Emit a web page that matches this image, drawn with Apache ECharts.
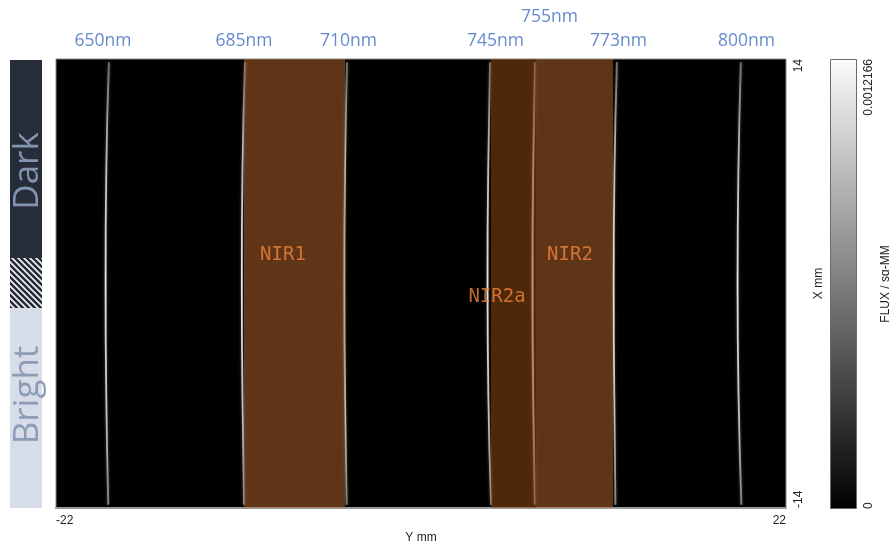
<!DOCTYPE html>
<html><head><meta charset="utf-8">
<script src="https://cdn.jsdelivr.net/npm/echarts@6/dist/echarts.min.js"></script>
<style>html,body{margin:0;padding:0;background:#fff;}#c{width:889px;height:545px;}</style>
</head><body><div id="c"></div>
<script>
// ---- data ----
const sampleX = [13.8, 7, 0, -7, -13.8];           // X mm positions along each spectral line
const wavelengths = ['650nm', '685nm', '710nm', '745nm', '755nm', '773nm', '800nm'];
const line650 = [-18.81, -18.97, -19.01, -18.97, -18.85];
const line685 = [-10.61, -10.76, -10.80, -10.76, -10.67];
const line710 = [-4.46, -4.58, -4.62, -4.58, -4.48];
const line745 = [4.16, 4.05, 4.01, 4.06, 4.22];
const line755 = [6.87, 6.76, 6.72, 6.76, 6.86];
const line773 = [11.81, 11.66, 11.61, 11.65, 11.72];
const line800 = [19.28, 19.13, 19.08, 19.14, 19.31];
const lineYs = [line650, line685, line710, line745, line755, line773, line800];
const wavelengthLabelAt = [-19.17, -10.67, -4.37, 4.49, 7.74, 11.90, 19.62];

const bandNames = ['NIR1', 'NIR2a', 'NIR2'];
const bandStart = [-10.67, 4.22, 6.93];
const bandEnd = [-4.58, 6.93, 11.57];
const bandLabelY = [-8.32, 4.58, 8.98];
const bandLabelX = [1.78, -0.84, 1.78];

const yMmRange = [-22, 22];
const xMmRange = [-14, 14];
const fluxRange = [0, 0.0012166];

// ---- chart ----
const chart = echarts.init(document.getElementById('c'), null, {renderer: 'canvas'});

const lineGrad = new echarts.graphic.LinearGradient(0, 0, 0, 1, [
  {offset: 0, color: '#6e6e6e'}, {offset: 0.2, color: '#b5b5b5'},
  {offset: 0.5, color: '#e6e6e6'}, {offset: 0.8, color: '#bdbdbd'}, {offset: 1, color: '#808080'}
]);

const lineSeries = lineYs.map((ys, i) => ({
  type: 'line', name: wavelengths[i], xAxisIndex: 0, yAxisIndex: 0,
  data: ys.map((y, k) => [y, sampleX[k]]),
  smooth: true, showSymbol: false, symbol: 'none', z: 2,
  lineStyle: {width: 1.8, color: lineGrad, shadowBlur: 3, shadowColor: 'rgba(255,255,255,0.3)'},
  silent: true
}));

const bandColors = ['rgba(190,105,48,0.5)', 'rgba(158,78,18,0.5)', 'rgba(190,105,48,0.5)'];

const bandSeries = {
  type: 'custom', xAxisIndex: 0, yAxisIndex: 0, z: 3, silent: true,
  data: bandNames.map((n, i) => [bandStart[i], bandEnd[i], i]),
  renderItem: function (params, api) {
    const p1 = api.coord([api.value(0), xMmRange[1]]);
    const p2 = api.coord([api.value(1), xMmRange[0]]);
    return {type: 'rect', shape: {x: p1[0], y: p1[1], width: p2[0] - p1[0], height: p2[1] - p1[1]},
      style: {fill: bandColors[api.value(2)]}};
  }
};

const bandLabelSeries = {
  type: 'scatter', xAxisIndex: 0, yAxisIndex: 0, z: 4, symbolSize: 0, silent: true,
  data: bandNames.map((n, i) => ({value: [bandLabelY[i], bandLabelX[i]], name: n})),
  label: {show: true, position: 'inside', formatter: '{b}', color: '#f0843a',
    fontFamily: 'DejaVu Sans Mono', fontSize: 19}
};

const wlLabelSeries = {
  type: 'scatter', xAxisIndex: 0, yAxisIndex: 0, z: 4, symbolSize: 0, silent: true, clip: false,
  data: wavelengths.map((w, i) => ({value: [wavelengthLabelAt[i], xMmRange[1]], name: w,
    label: {distance: w === '755nm' ? 33 : 9}})),
  label: {show: true, position: 'top', formatter: '{b}', color: '#3d6dc0',
    fontFamily: 'Open Sans', fontSize: 17.5}
};

const colorbarSeries = {
  type: 'bar', xAxisIndex: 1, yAxisIndex: 1, barWidth: '100%', silent: true,
  data: [fluxRange[1]],
  itemStyle: {color: new echarts.graphic.LinearGradient(0, 0, 0, 1, [
    {offset: 0, color: '#fbfbfb'}, {offset: 1, color: '#000000'}]),
    borderColor: '#6a6a6a', borderWidth: 1}
};

// hatch pattern
const pc = document.createElement('canvas');
pc.width = 6; pc.height = 6;
const ctx = pc.getContext('2d');
ctx.fillStyle = '#262c38'; ctx.fillRect(0, 0, 6, 6);
ctx.strokeStyle = '#f4f4f4'; ctx.lineWidth = 1.6;
ctx.beginPath();
ctx.moveTo(-1, -1); ctx.lineTo(7, 7);
ctx.moveTo(-4, 2); ctx.lineTo(4, 10);
ctx.moveTo(2, -4); ctx.lineTo(10, 4);
ctx.stroke();

const axisFont = 'Liberation Sans';

chart.setOption({
  animation: false,
  backgroundColor: '#ffffff',
  grid: [
    {left: 56, top: 59, width: 730, height: 449, show: true, backgroundColor: '#000000',
      borderColor: '#8a8a8a', borderWidth: 1, containLabel: false, outerBoundsMode: 'none'},
    {left: 830, top: 59, width: 27, height: 450, show: false, containLabel: false, outerBoundsMode: 'none'}
  ],
  xAxis: [
    {type: 'value', gridIndex: 0, min: yMmRange[0], max: yMmRange[1], interval: 44,
      name: 'Y mm', nameLocation: 'middle', nameGap: 24,
      nameTextStyle: {color: '#222', fontSize: 12, fontFamily: axisFont},
      axisLine: {show: true, onZero: false, lineStyle: {color: '#9a9a9a', width: 2}}, axisTick: {show: false},
      splitLine: {show: false},
      axisLabel: {color: '#222', fontSize: 12, fontFamily: axisFont, margin: 7,
        alignMinLabel: 'left', alignMaxLabel: 'right'}},
    {type: 'category', gridIndex: 1, data: [''], show: false}
  ],
  yAxis: [
    {type: 'value', gridIndex: 0, position: 'right', min: xMmRange[0], max: xMmRange[1], interval: 28,
      name: 'X mm', nameLocation: 'middle', nameGap: 19, nameRotate: 90,
      nameTextStyle: {color: '#222', fontSize: 12, fontFamily: 'Liberation Sans'},
      axisLine: {show: false, onZero: false}, axisTick: {show: false}, splitLine: {show: false},
      axisLabel: {color: '#222', fontSize: 12, fontFamily: 'Liberation Sans', rotate: 90, margin: 7,
        alignMinLabel: 'left', alignMaxLabel: 'right'}},
    {type: 'value', gridIndex: 1, position: 'right', min: fluxRange[0], max: fluxRange[1],
      interval: fluxRange[1],
      name: 'FLUX / sq-MM', nameLocation: 'middle', nameGap: 23, nameRotate: 90,
      nameTextStyle: {color: '#222', fontSize: 12, fontFamily: 'Liberation Sans'},
      axisLine: {show: false}, axisTick: {show: false}, splitLine: {show: false},
      axisLabel: {color: '#222', fontSize: 12, fontFamily: 'Liberation Sans', rotate: 90, margin: 6,
        alignMinLabel: 'left', alignMaxLabel: 'right',
        formatter: v => v === 0 ? '0' : String(fluxRange[1])}}
  ],
  series: [...lineSeries, bandSeries, bandLabelSeries, wlLabelSeries, colorbarSeries],
  graphic: [
    {type: 'rect', shape: {x: 10, y: 60, width: 32, height: 198}, style: {fill: '#262c38'}, silent: true},
    {type: 'rect', shape: {x: 10, y: 258, width: 32, height: 50}, style: {fill: {image: pc, repeat: 'repeat'}}, silent: true},
    {type: 'rect', shape: {x: 10, y: 308, width: 32, height: 200}, style: {fill: '#d6dde8'}, silent: true},
    {type: 'text', x: 28, y: 171, rotation: Math.PI / 2, silent: true,
      style: {text: 'Dark', fill: '#8294b0', font: '35px "Open Sans"', align: 'center', verticalAlign: 'middle'}},
    {type: 'text', x: 28, y: 395, rotation: Math.PI / 2, silent: true,
      style: {text: 'Bright', fill: '#8c9bb6', font: '35px "Open Sans"', align: 'center', verticalAlign: 'middle'}}
  ]
});
</script></body></html>
